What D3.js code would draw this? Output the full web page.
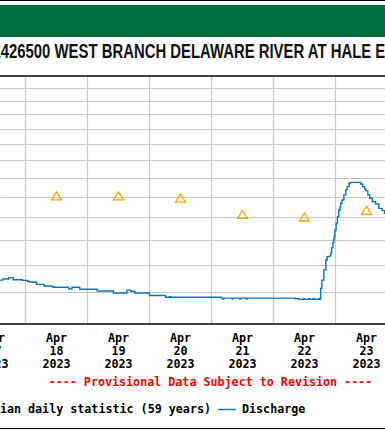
<!DOCTYPE html>
<html>
<head>
<meta charset="utf-8">
<script src="https://cdn.jsdelivr.net/npm/d3@7"></script>
<style>
  body { margin: 0; background: #fff; }
  svg { display: block; }
  .mono { font-family: "DejaVu Sans Mono", monospace; font-weight: bold; font-size: 11.7px; }
</style>
</head>
<body>
<div id="chart"></div>
<script>
// discharge, cubic feet per second (step data, value holds until next time)
const dischargeTimes = [
  "2023-04-17T14:00", "2023-04-17T15:15", "2023-04-17T17:30", "2023-04-17T19:15", "2023-04-17T22:45",
  "2023-04-18T00:45", "2023-04-18T01:30", "2023-04-18T04:15", "2023-04-18T07:15", "2023-04-18T10:00",
  "2023-04-18T10:45", "2023-04-18T16:45", "2023-04-18T18:00", "2023-04-18T21:00",
  "2023-04-19T03:45", "2023-04-19T10:00", "2023-04-19T15:15", "2023-04-19T16:45", "2023-04-19T18:15",
  "2023-04-20T00:00", "2023-04-20T06:15", "2023-04-20T07:45", "2023-04-20T08:15",
  "2023-04-21T03:45", "2023-04-21T04:30", "2023-04-21T04:45", "2023-04-21T08:00", "2023-04-21T08:15",
  "2023-04-21T11:00", "2023-04-21T11:15", "2023-04-21T13:30", "2023-04-21T13:45",
  "2023-04-22T08:30", "2023-04-22T10:00", "2023-04-22T11:30", "2023-04-22T12:00", "2023-04-22T13:30",
  "2023-04-22T14:00", "2023-04-22T15:15", "2023-04-22T16:00", "2023-04-22T17:15", "2023-04-22T17:45",
  "2023-04-22T18:15", "2023-04-22T18:45", "2023-04-22T19:30", "2023-04-22T20:15", "2023-04-22T20:45",
  "2023-04-22T21:45", "2023-04-22T22:15", "2023-04-22T22:30", "2023-04-22T23:00", "2023-04-22T23:15",
  "2023-04-22T23:30", "2023-04-22T23:45", "2023-04-23T00:15", "2023-04-23T00:45", "2023-04-23T01:15",
  "2023-04-23T01:45", "2023-04-23T02:00", "2023-04-23T02:30", "2023-04-23T03:15", "2023-04-23T04:00",
  "2023-04-23T04:30", "2023-04-23T05:15", "2023-04-23T05:45", "2023-04-23T09:45", "2023-04-23T10:30",
  "2023-04-23T11:15", "2023-04-23T11:45", "2023-04-23T12:30", "2023-04-23T13:15", "2023-04-23T14:15",
  "2023-04-23T15:30", "2023-04-23T16:45", "2023-04-23T18:00", "2023-04-23T19:00", "2023-04-23T20:00"
];
const dischargeValues = [
  843, 847, 852, 844, 842,
  839, 836, 828, 822, 820,
  818, 812, 818, 811,
  805, 798, 808, 804, 798,
  790, 784, 786, 784,
  781, 778, 781, 778, 781,
  778, 781, 778, 781,
  779, 777, 779, 777, 779,
  777, 779, 777, 779, 777,
  814, 843, 880, 918, 931,
  934, 945, 966, 986, 999,
  1013, 1042, 1073, 1102, 1134,
  1150, 1167, 1183, 1209, 1235,
  1252, 1270, 1275, 1266, 1252,
  1240, 1231, 1209, 1192, 1175,
  1163, 1142, 1131, 1119, 1110
];

// median daily statistic (59 years), plotted at noon
const medianDates = ["2023-04-17", "2023-04-18", "2023-04-19", "2023-04-20", "2023-04-21", "2023-04-22", "2023-04-23"];
const medianValues = [1210, 1204, 1204, 1193, 1113, 1101, 1132];

const yTicks = [800, 900, 1000, 1100, 1200, 1300, 1400, 1500, 1600, 1700, 1800, 1900];
const dayLabels = medianDates;

const width = 385, height = 430;
const plotTop = 76, plotBottom = 324;

const parseTime = d3.utcParse("%Y-%m-%dT%H:%M");
const parseDay = d3.utcParse("%Y-%m-%d");

const discharge = dischargeTimes.map((t, i) => ({ t: parseTime(t), v: dischargeValues[i] }));
const median = medianDates.map((d, i) => ({ t: d3.utcHour.offset(parseDay(d), 12), v: medianValues[i] }));

const x = d3.scaleUtc()
  .domain([parseDay("2023-04-18"), parseDay("2023-04-24")])
  .range([25.5, 397.5]);

const y = d3.scaleLog()
  .domain([700, 2000])
  .range([plotBottom, plotTop]);

const svg = d3.select("#chart").append("svg")
  .attr("width", width)
  .attr("height", height);

// header
svg.append("line").attr("x1", 0).attr("x2", width).attr("y1", 0.5).attr("y2", 0.5)
  .attr("stroke", "#000").attr("stroke-width", 1);
svg.append("rect").attr("x", 0).attr("y", 5).attr("width", width).attr("height", 32)
  .attr("fill", "#006f41");

const title = svg.append("text")
  .attr("y", 58)
  .style("font-family", "'Liberation Sans', Arial, sans-serif")
  .style("font-weight", "bold")
  .style("font-size", "21px")
  .attr("fill", "#111")
  .text("USGS 01426500 WEST BRANCH DELAWARE RIVER AT HALE EDDY NY");
// squeeze the title so it looks like the condensed original
const pre = title.node().getSubStringLength(0, 7);
const mid = title.node().getSubStringLength(7, 42);
const sx = 375 / mid;
title.attr("transform", `translate(${0.8 - pre * sx},0) scale(${sx},1)`);

svg.append("defs").append("clipPath").attr("id", "plot")
  .append("rect").attr("x", -400).attr("y", plotTop).attr("width", 800).attr("height", plotBottom - plotTop);

// grid
const grid = svg.append("g");
grid.selectAll("line.h").data(yTicks).join("line")
  .attr("class", "h")
  .attr("x1", 0).attr("x2", width)
  .attr("y1", d => Math.round(y(d)) + 0.5).attr("y2", d => Math.round(y(d)) + 0.5)
  .attr("stroke", "#c8c8c8").attr("stroke-width", 1.2);

const days = d3.utcDay.range(parseDay("2023-04-17"), parseDay("2023-04-25"));
grid.selectAll("line.v").data(days).join("line")
  .attr("class", "v")
  .attr("x1", d => x(d)).attr("x2", d => x(d))
  .attr("y1", plotTop).attr("y2", plotBottom)
  .attr("stroke", "#c8c8c8").attr("stroke-width", 1.2);

// median triangles
const tri = "M0,-4L5,4L-5,4Z";
svg.append("g").attr("clip-path", "url(#plot)")
  .selectAll("path").data(median).join("path")
  .attr("d", tri)
  .attr("transform", d => `translate(${x(d.t)},${y(d.v)})`)
  .attr("fill", "none")
  .attr("stroke", "#ffa500")
  .attr("stroke-width", 1.3);

// discharge line
const line = d3.line()
  .x(d => x(d.t))
  .y(d => y(d.v))
  .curve(d3.curveStepAfter);

svg.append("path")
  .datum(discharge)
  .attr("clip-path", "url(#plot)")
  .attr("d", line)
  .attr("fill", "none")
  .attr("stroke", "#0a74c4")
  .attr("stroke-width", 1.4);

// plot frame (top & bottom edges are visible)
svg.append("line").attr("x1", 0).attr("x2", width).attr("y1", plotTop).attr("y2", plotTop)
  .attr("stroke", "#000").attr("stroke-width", 1.6);
svg.append("line").attr("x1", 0).attr("x2", width).attr("y1", plotBottom).attr("y2", plotBottom)
  .attr("stroke", "#000").attr("stroke-width", 1.6);

// x labels at noon
const fmtMon = d3.utcFormat("%b"), fmtDay = d3.utcFormat("%d"), fmtYr = d3.utcFormat("%Y");
const labels = svg.append("g").attr("class", "mono").attr("text-anchor", "middle").attr("fill", "#000");
dayLabels.forEach(d => {
  const t = parseDay(d);
  const cx = x(d3.utcHour.offset(t, 12));
  const g = labels.append("text").attr("x", cx);
  g.append("tspan").attr("x", cx).attr("y", 342).text(fmtMon(t));
  g.append("tspan").attr("x", cx).attr("y", 355).text(fmtDay(t));
  g.append("tspan").attr("x", cx).attr("y", 368).text(fmtYr(t));
});

svg.append("text").attr("class", "mono")
  .attr("x", 210.5).attr("y", 386)
  .attr("text-anchor", "middle")
  .attr("fill", "#ff0000")
  .text("---- Provisional Data Subject to Revision ----");

// legend
svg.append("path").attr("d", tri)
  .attr("transform", "translate(-34,409)")
  .attr("fill", "none").attr("stroke", "#ffa500").attr("stroke-width", 1.3);
svg.append("text").attr("class", "mono")
  .attr("x", 211).attr("y", 413).attr("text-anchor", "end").attr("fill", "#000")
  .text("Median daily statistic (59 years)");
svg.append("line").attr("x1", 218).attr("x2", 236).attr("y1", 409.5).attr("y2", 409.5)
  .attr("stroke", "#0a74c4").attr("stroke-width", 1.4);
svg.append("text").attr("class", "mono")
  .attr("x", 242).attr("y", 413).attr("fill", "#000")
  .text("Discharge");

svg.append("line").attr("x1", 0).attr("x2", width).attr("y1", 428.5).attr("y2", 428.5)
  .attr("stroke", "#000").attr("stroke-width", 1.2);
</script>
</body>
</html>
